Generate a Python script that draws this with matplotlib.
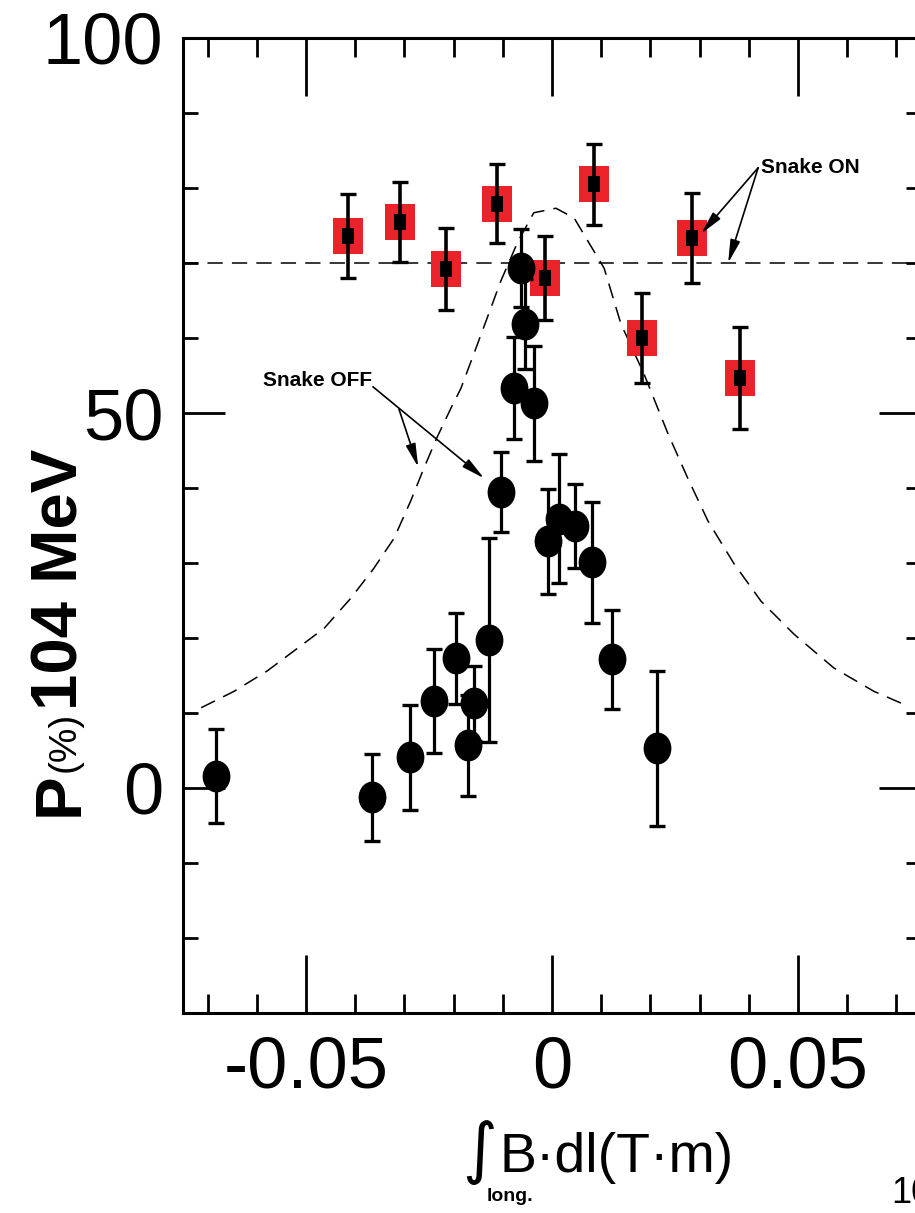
import matplotlib
matplotlib.use("Agg")
import matplotlib.pyplot as plt
from matplotlib.path import Path
from matplotlib.transforms import Affine2D

plt.rcParams['font.family'] = ['Liberation Sans', 'DejaVu Sans']

# Snake ON (red squares)
on_x = [-0.0415, -0.0309, -0.0215, -0.0112, -0.0014, 0.0085, 0.0183, 0.0285, 0.0382]
on_y = [73.6, 75.5, 69.2, 77.9, 68.0, 80.5, 60.0, 73.3, 54.7]
on_err = [5.6, 5.3, 5.5, 5.3, 5.6, 5.4, 6.0, 6.0, 6.8]

# Snake OFF (black dots)
off_x = [-0.0683, -0.0366, -0.0289, -0.0240, -0.0196, -0.0171, -0.0159, -0.0128, -0.0104,
         -0.0077, -0.0063, -0.0055, -0.0037, -0.0008, 0.0014, 0.0047, 0.0081, 0.0122, 0.0213]
off_y = [1.6, -1.2, 4.1, 11.6, 17.3, 5.7, 11.3, 19.7, 39.5,
         53.3, 69.3, 61.9, 51.3, 32.9, 35.9, 34.9, 30.1, 17.2, 5.3]
off_err = [6.3, 5.8, 7.0, 6.9, 6.1, 6.7, 5.0, 13.6, 5.3,
           6.8, 5.2, 6.0, 7.7, 7.0, 8.6, 5.6, 8.1, 6.6, 10.3]

# dashed curve (snake off expectation)
curve_x = [-0.0713, -0.0646, -0.0579, -0.0524, -0.0463, -0.0409, -0.0362, -0.0321,
           -0.0287, -0.0260, -0.0234, -0.0205, -0.0185, -0.0144, -0.0104, -0.0069,
           -0.0037, 0.0008, 0.0045, 0.0085, 0.0106, 0.0140, 0.0187, 0.0236,
           0.0276, 0.0317, 0.0370, 0.0425, 0.0492, 0.0573, 0.0654, 0.0724]
curve_y = [10.7, 12.9, 15.6, 18.3, 21.3, 25.3, 29.3, 33.3,
           38.3, 42.7, 46.7, 50.7, 53.3, 60.5, 67.6, 72.9,
           76.7, 77.3, 76.0, 71.6, 69.3, 61.9, 55.2, 47.2,
           41.3, 35.6, 29.9, 24.9, 20.5, 16.0, 12.9, 10.9]

snake_on_level = 70

xticks = [-0.05, 0, 0.05]
xticklabels = ['-0.05', '0', '0.05']
yticks = [0, 50, 100]
yticklabels = ['0', '50', '100']

W, H = 915, 1213
fig = plt.figure(figsize=(W / 100, H / 100), dpi=100)
ax = fig.add_axes([183 / W, 1 - 1013 / H, (921 - 183) / W, (1013 - 38) / H])

# rectangular / elliptical markers
rect = [(-0.83, -1), (0.83, -1), (0.83, 1), (-0.83, 1), (-0.83, -1)]
small_rect = [(-0.8, -1), (0.8, -1), (0.8, 1), (-0.8, 1), (-0.8, -1)]
ellipse = Path.unit_circle().transformed(Affine2D().scale(0.87, 1.0))

dash = (0, (10, 6))
ax.axhline(snake_on_level, color='black', lw=1.1, linestyle=dash, zorder=1)
ax.plot(curve_x, curve_y, color='black', lw=1.1, linestyle=dash, zorder=1)

# snake on points
ax.plot(on_x, on_y, linestyle='none', marker=rect, markersize=26,
        markerfacecolor='#ea2229', markeredgewidth=0, zorder=2)
ax.errorbar(on_x, on_y, yerr=on_err, fmt='none', ecolor='black', elinewidth=2.6,
            capsize=6, capthick=2.4, zorder=3)
ax.plot(on_x, on_y, linestyle='none', marker=small_rect, markersize=11,
        color='black', markeredgewidth=0, zorder=4)

# snake off points
ax.errorbar(off_x, off_y, yerr=off_err, fmt='none', ecolor='black', elinewidth=2.3,
            capsize=6, capthick=2.4, zorder=3)
ax.plot(off_x, off_y, linestyle='none', marker=ellipse, markersize=23,
        color='black', markeredgewidth=0, zorder=4)

ax.set_xlim(-0.075, 0.075)
ax.set_ylim(-30, 100)
ax.set_xticks(xticks)
ax.set_xticklabels(xticklabels)
ax.set_xticks([v / 100 for v in range(-7, 8) if v % 5 != 0], minor=True)
ax.set_yticks(yticks)
ax.set_yticklabels(yticklabels)
ax.set_yticks([v for v in range(-20, 100, 10) if v % 50 != 0], minor=True)

for s in ax.spines.values():
    s.set_linewidth(2.2)
ax.tick_params(axis='x', which='both', direction='in', top=True, bottom=True, width=2.0)
ax.tick_params(axis='y', which='both', direction='in', left=True, right=True, width=2.0)
ax.tick_params(axis='x', which='major', length=42, labelsize=52, pad=16)
ax.tick_params(axis='x', which='minor', length=14)
ax.tick_params(axis='y', which='major', length=30, labelsize=52, pad=14)
ax.tick_params(axis='y', which='minor', length=11)

# annotations
note = dict(fontsize=15, fontweight='bold')
arrow = dict(arrowstyle='-|>,head_length=0.7,head_width=0.15', color='black', lw=1.2,
             mutation_scale=20, shrinkA=0, shrinkB=0)
ax.text(0.0425, 82.0, 'Snake ON', ha='left', va='baseline', **note)
ax.annotate('', xy=(0.0303, 73.9), xytext=(0.0419, 82.7), arrowprops=arrow)
ax.annotate('', xy=(0.0358, 70.0), xytext=(0.0419, 82.7), arrowprops=arrow)
ax.text(-0.0587, 53.6, 'Snake OFF', ha='left', va='baseline', **note)
ax.annotate('', xy=(-0.0138, 41.3), xytext=(-0.0364, 53.5), arrowprops=arrow)
ax.annotate('', xy=(-0.0272, 42.8), xytext=(-0.0311, 50.5), arrowprops=arrow)

# y label made of pieces: P (%) 104 MeV
lab = dict(rotation=90, rotation_mode='anchor', ha='left', va='baseline')
fig.text(78 / W, 1 - 816 / H, 'P', fontsize=47, fontweight='bold', **lab)
fig.text(75 / W, 1 - 772 / H, '(%)', fontsize=28, **lab)
fig.text(78 / W, 1 - 710 / H, '104 MeV', fontsize=47, fontweight='bold', **lab)

# x label: integral B.dl (T.m) with "long." subscript
fig.text(480 / W, 1 - 1152 / H, '\u222b', fontsize=48, ha='center', va='center',
         family=['DejaVu Sans'])
fig.text(499 / W, 1 - 1172 / H, 'B\u00b7dl(T\u00b7m)', fontsize=40, ha='left', va='baseline')
fig.text(487 / W, 1 - 1188 / H, 'long.', fontsize=14, fontweight='bold', ha='left', va='top')

fig.text(891 / W, 1 - 1203 / H, '10', fontsize=26, ha='left', va='baseline')

fig.savefig('out.png', dpi=100)
